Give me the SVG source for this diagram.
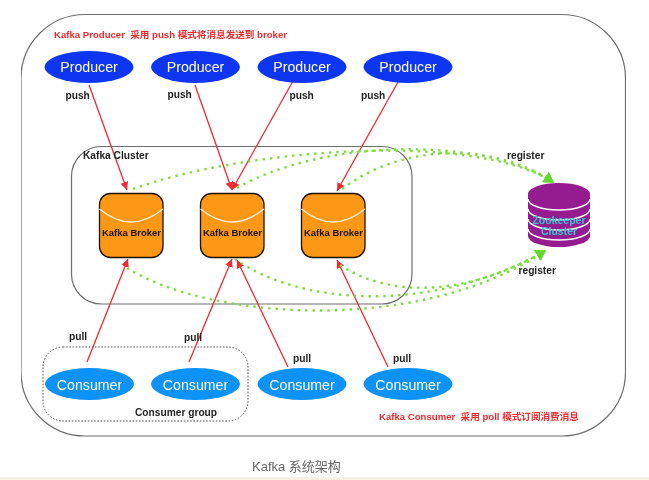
<svg xmlns="http://www.w3.org/2000/svg" width="649" height="480" viewBox="0 0 649 480">
<style>
text{font-family:"Liberation Sans","Noto Sans CJK SC",sans-serif}
.frame{fill:none;stroke:#6e6e6e;stroke-width:1.2}
.note{font-size:9.6px;font-weight:700;fill:#ee2a2e;white-space:pre}
.lbl{font-size:10.2px;font-weight:700;fill:#222}
.node{font-size:14.2px;fill:#fff;text-anchor:middle}
.prod{fill:#0f36f2}
.cons{fill:#0a93f7}
.brk{fill:#fd9712;stroke:#1c1204;stroke-width:1.3}
.arc{fill:none;stroke:#fbeedb;stroke-width:1.4}
.btxt{font-size:9.5px;font-weight:700;fill:#1c1204;text-anchor:middle}
.red{fill:none;stroke:#f02a30;stroke-width:1.3;marker-end:url(#ra)}
.grn{fill:none;stroke:#7bdc3c;stroke-width:2.4;stroke-dasharray:2.4 5;marker-end:url(#ga)}
.ring{fill:none;stroke:#fff;stroke-width:1.4}
</style>
<defs>
<marker id="ra" markerUnits="userSpaceOnUse" markerWidth="9" markerHeight="9" refX="8" refY="4" orient="auto"><path d="M0 0L8 4L0 8z" fill="#f02a30"/></marker>
<marker id="ga" markerUnits="userSpaceOnUse" markerWidth="12" markerHeight="14" refX="9" refY="6" orient="auto"><path d="M0 0L10 6L0 12z" fill="#62d82e"/></marker>
<filter id="soft" x="0" y="0" width="100%" height="100%"><feGaussianBlur stdDeviation="0.35"/></filter>
</defs>
<rect x="0" y="0" width="649" height="480" fill="#fff"/>
<rect x="0" y="477" width="649" height="3" fill="#f6f1e2"/>
<g filter="url(#soft)">
<rect id="outer" class="frame" x="21" y="14.5" width="604.5" height="421.5" rx="64" ry="64"/>
<rect id="cluster" class="frame" x="71.5" y="146.5" width="340.5" height="157.5" rx="30" ry="30"/>
<rect id="group" x="43" y="347" width="205" height="74" rx="20" ry="20" fill="none" stroke="#555" stroke-width="1" stroke-dasharray="1.6 1.6"/>

<g id="broker1"><rect class="brk" x="99.5" y="193.5" width="63.5" height="64" rx="11"/><path class="arc" d="M99.5 209Q131 235 163 209"/><text class="btxt" x="131.5" y="235.5">Kafka Broker</text></g>
<g id="broker2"><rect class="brk" x="200.5" y="193.5" width="63.5" height="64" rx="11"/><path class="arc" d="M200.5 209Q232 235 264 209"/><text class="btxt" x="232.5" y="235.5">Kafka Broker</text></g>
<g id="broker3"><rect class="brk" x="301.5" y="193.5" width="63.5" height="64" rx="11"/><path class="arc" d="M301.5 209Q333 235 365 209"/><text class="btxt" x="333.5" y="235.5">Kafka Broker</text></g>

<g id="zookeeper">
<path d="M528 194A31 11 0 0 1 590 194V236A31 11 0 0 1 528 236z" fill="#951b8f"/>
<path class="ring" d="M528 199A31 11 0 0 0 590 199M528 209A31 11 0 0 0 590 209M528 219A31 11 0 0 0 590 219M528 229A31 11 0 0 0 590 229"/>
<text x="559" y="224" font-size="10.5" font-weight="700" fill="#35c6d2" text-anchor="middle">Zookeeper</text>
<text x="559" y="235" font-size="10.5" font-weight="700" fill="#35c6d2" text-anchor="middle">Cluster</text>
</g>

<g id="connectors">
<path class="red" d="M89 85L127 190"/>
<path class="red" d="M195 85L232 190"/>
<path class="red" d="M293 81L232 190"/>
<path class="red" d="M398 82L337 191"/>
<path class="red" d="M87 362L128 259"/>
<path class="red" d="M189 362L232 259"/>
<path class="red" d="M288 367L237 260"/>
<path class="red" d="M388 367L337 260"/>
<path class="grn" d="M133 189C240 150 470 130 553 182"/>
<path class="grn" d="M237 188C320 140 480 135 553 182"/>
<path class="grn" d="M342 189C400 145 490 140 553 182"/>
<path class="grn" d="M127 268C210 320 420 335 545 251"/>
<path class="grn" d="M235 259C300 305 430 315 545 251"/>
<path class="grn" d="M340 265C385 295 460 300 545 251"/>
</g>

<g id="producer1"><ellipse class="prod" cx="89" cy="67" rx="44.5" ry="16"/><text class="node" x="89" y="72">Producer</text></g>
<g id="producer2"><ellipse class="prod" cx="195.5" cy="67" rx="44.5" ry="16"/><text class="node" x="195.5" y="72">Producer</text></g>
<g id="producer3"><ellipse class="prod" cx="302" cy="67" rx="44.5" ry="16"/><text class="node" x="302" y="72">Producer</text></g>
<g id="producer4"><ellipse class="prod" cx="408" cy="67" rx="44.5" ry="16"/><text class="node" x="408" y="72">Producer</text></g>
<g id="consumer1"><ellipse class="cons" cx="89.5" cy="384" rx="44.5" ry="16"/><text class="node" x="89.5" y="390">Consumer</text></g>
<g id="consumer2"><ellipse class="cons" cx="195.5" cy="384" rx="44.5" ry="16"/><text class="node" x="195.5" y="390">Consumer</text></g>
<g id="consumer3"><ellipse class="cons" cx="302" cy="384" rx="44.5" ry="16"/><text class="node" x="302" y="390">Consumer</text></g>
<g id="consumer4"><ellipse class="cons" cx="408" cy="384" rx="44.5" ry="16"/><text class="node" x="408" y="390">Consumer</text></g>

<text class="note" x="54" y="38">Kafka Producer  采用 push 模式将消息发送到 broker</text>
<text class="note" x="379" y="420">Kafka Consumer  采用 poll 模式订阅消费消息</text>
<text class="lbl" x="65.5" y="99">push</text>
<text class="lbl" x="167.5" y="98">push</text>
<text class="lbl" x="289.5" y="99">push</text>
<text class="lbl" x="361" y="99">push</text>
<text class="lbl" x="83" y="159">Kafka Cluster</text>
<text class="lbl" x="507" y="159">register</text>
<text class="lbl" x="518.5" y="274">register</text>
<text class="lbl" x="69" y="340">pull</text>
<text class="lbl" x="184" y="341">pull</text>
<text class="lbl" x="293" y="362">pull</text>
<text class="lbl" x="393" y="362">pull</text>
<text class="lbl" x="135" y="416">Consumer group</text>
<text x="252" y="471" font-size="13" fill="#666">Kafka 系统架构</text>
</g>
</svg>
